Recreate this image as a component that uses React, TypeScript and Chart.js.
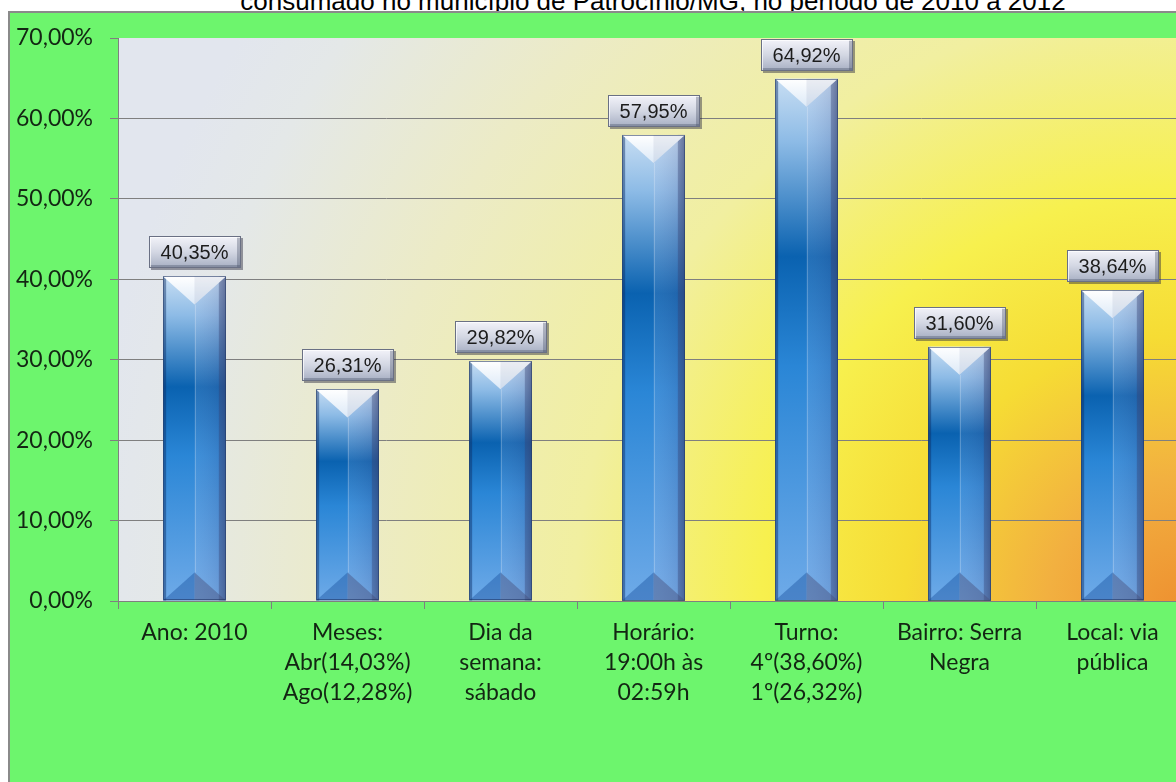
import React, { useEffect, useRef } from "react";
import { Chart, registerables } from "chart.js";

Chart.register(...registerables);

const TITLE = "consumado no município de Patrocínio/MG, no período de 2010 a 2012";
const CATEGORIES: (string | string[])[] = [
  "Ano: 2010",
  ["Meses:", "Abr(14,03%)", "Ago(12,28%)"],
  ["Dia da", "semana:", "sábado"],
  ["Horário:", "19:00h às", "02:59h"],
  ["Turno:", "4º(38,60%)", "1º(26,32%)"],
  ["Bairro: Serra", "Negra"],
  ["Local: via", "pública"],
];
const VALUES = [40.35, 26.31, 29.82, 57.95, 64.92, 31.6, 38.64];
const Y_MIN = 0;
const Y_MAX = 70;
const Y_STEP = 10;

const fmtPct = (v: number) => v.toFixed(2).replace(".", ",") + "%";

const TEXT_COLOR = "#132613";
const AXIS_FONT = "Lato, 'Open Sans', sans-serif";

const backgroundPlugin = {
  id: "bgPlugin",
  beforeDraw(chart: any) {
    const { ctx, chartArea: ca, width, height } = chart;
    ctx.save();
    ctx.fillStyle = "#6df56d";
    ctx.fillRect(10, 12, width - 10, height - 12);
    ctx.fillStyle = "#8a8a8a";
    ctx.fillRect(8, 11, 2, height - 11);
    ctx.fillRect(8, 11, width - 8, 2);
    const cx = ca.right - 10;
    const cy = ca.bottom + 10;
    const g = ctx.createRadialGradient(cx, cy, 0, cx, cy, 1100);
    g.addColorStop(0, "#ee9030");
    g.addColorStop(0.12, "#f2b040");
    g.addColorStop(0.25, "#f6dc34");
    g.addColorStop(0.38, "#f7f04e");
    g.addColorStop(0.55, "#f1efa0");
    g.addColorStop(0.75, "#ecebc6");
    g.addColorStop(0.92, "#e4e8e8");
    g.addColorStop(1, "#e2e6ee");
    ctx.fillStyle = g;
    ctx.fillRect(ca.left, ca.top, ca.right - ca.left, ca.bottom - ca.top);
    ctx.restore();
  },
};

const barDecorPlugin = {
  id: "barDecor",
  afterDatasetsDraw(chart: any) {
    const { ctx } = chart;
    const meta = chart.getDatasetMeta(0);
    ctx.save();
    meta.data.forEach((bar: any, i: number) => {
      const { x, y, base, width } = bar.getProps(["x", "y", "base", "width"], true);
      const x0 = x - width / 2;
      const x1 = x + width / 2;
      const top = y;
      const bot = base;
      const h = bot - top;
      const d = Math.min(28, h / 2);

      // right half shading
      const rg = ctx.createLinearGradient(x, 0, x1, 0);
      rg.addColorStop(0, "rgba(190,200,235,0.14)");
      rg.addColorStop(0.75, "rgba(110,115,165,0.22)");
      rg.addColorStop(1, "rgba(60,70,120,0.5)");
      ctx.fillStyle = rg;
      ctx.fillRect(x, top, x1 - x, h);
      // right bevel strip
      ctx.fillStyle = "rgba(50,60,110,0.35)";
      ctx.fillRect(x1 - 7, top, 7, h);
      // left edge
      ctx.fillStyle = "rgba(10,45,100,0.45)";
      ctx.fillRect(x0, top, 3, h);

      // top V
      const vg = ctx.createLinearGradient(0, top, 0, top + d);
      vg.addColorStop(0, "#ffffff");
      vg.addColorStop(1, "#dce9f7");
      ctx.fillStyle = vg;
      ctx.beginPath();
      ctx.moveTo(x0, top);
      ctx.lineTo(x1, top);
      ctx.lineTo(x, top + d);
      ctx.closePath();
      ctx.fill();
      ctx.fillStyle = "rgba(150,160,190,0.18)";
      ctx.beginPath();
      ctx.moveTo(x, top);
      ctx.lineTo(x1, top);
      ctx.lineTo(x, top + d);
      ctx.closePath();
      ctx.fill();

      // bottom bevel
      ctx.fillStyle = "rgba(15,70,150,0.38)";
      ctx.beginPath();
      ctx.moveTo(x0, bot);
      ctx.lineTo(x, bot - d);
      ctx.lineTo(x, bot);
      ctx.closePath();
      ctx.fill();
      ctx.fillStyle = "rgba(70,80,125,0.45)";
      ctx.beginPath();
      ctx.moveTo(x, bot);
      ctx.lineTo(x, bot - d);
      ctx.lineTo(x1, bot);
      ctx.closePath();
      ctx.fill();

      // center line
      ctx.strokeStyle = "rgba(255,255,255,0.22)";
      ctx.lineWidth = 1;
      ctx.beginPath();
      ctx.moveTo(Math.round(x) + 0.5, top + d);
      ctx.lineTo(Math.round(x) + 0.5, bot - d);
      ctx.stroke();

      // outline
      ctx.strokeStyle = "rgba(30,50,95,0.55)";
      ctx.strokeRect(Math.round(x0) + 0.5, Math.round(top) + 0.5, Math.round(width) - 1, Math.round(h) - 1);

      // value label box
      const txt = fmtPct(VALUES[i]);
      ctx.font = "20px 'Liberation Sans', Arial, sans-serif";
      const tw = ctx.measureText(txt).width;
      const bw = Math.round(tw + 24);
      const bh = 32;
      const bx = Math.round(x - bw / 2);
      const by = Math.round(top - 8 - bh);
      ctx.fillStyle = "rgba(40,40,60,0.45)";
      ctx.fillRect(bx + 2, by + 2, bw, bh);
      const lg = ctx.createLinearGradient(0, by, 0, by + bh);
      lg.addColorStop(0, "#f4f4fa");
      lg.addColorStop(0.5, "#d3d7e3");
      lg.addColorStop(1, "#a6aec2");
      ctx.fillStyle = lg;
      ctx.fillRect(bx, by, bw, bh);
      ctx.fillStyle = "rgba(70,78,100,0.35)";
      ctx.fillRect(bx + bw - 4, by, 4, bh);
      ctx.fillRect(bx, by + bh - 3, bw, 3);
      ctx.fillStyle = "rgba(255,255,255,0.7)";
      ctx.fillRect(bx, by, bw, 2);
      ctx.fillRect(bx, by, 2, bh);
      ctx.strokeStyle = "#6a7084";
      ctx.strokeRect(bx + 0.5, by + 0.5, bw - 1, bh - 1);
      ctx.fillStyle = "#1c1c1c";
      ctx.textAlign = "center";
      ctx.textBaseline = "middle";
      ctx.fillText(txt, x, by + bh / 2 + 1);
    });
    ctx.restore();
  },
};

export default function App() {
  const canvasRef = useRef<HTMLCanvasElement | null>(null);

  useEffect(() => {
    const canvas = canvasRef.current;
    if (!canvas) return;
    const chart = new Chart(canvas, {
      type: "bar",
      data: {
        labels: CATEGORIES,
        datasets: [
          {
            data: VALUES,
            barPercentage: 0.41,
            categoryPercentage: 1,
            backgroundColor: (c: any) => {
              const ch = c.chart;
              const ys = ch.scales && ch.scales.y;
              if (!ys || !ch.chartArea) return "#1a70c0";
              const v = VALUES[c.dataIndex];
              const top = ys.getPixelForValue(v);
              const base = ys.getPixelForValue(0);
              const g = ch.ctx.createLinearGradient(0, top, 0, base);
              g.addColorStop(0, "#c8def3");
              g.addColorStop(0.12, "#8dbbe6");
              g.addColorStop(0.34, "#0a62b0");
              g.addColorStop(0.55, "#2a86d6");
              g.addColorStop(1, "#6eaae8");
              return g;
            },
            borderWidth: 0,
          },
        ],
      },
      options: {
        responsive: false,
        animation: false,
        layout: { padding: { left: 0, top: 38, right: 11, bottom: 61 } },
        plugins: {
          legend: { display: false },
          title: { display: false },
          tooltip: { enabled: false },
        },
        scales: {
          x: {
            afterFit: (s: any) => {
              s.height = 120;
            },
            grid: {
              drawOnChartArea: false,
              drawTicks: true,
              tickLength: 8,
              color: "#7f7f7f",
              offset: true,
            },
            border: { color: "#7f7f7f" },
            ticks: {
              autoSkip: false,
              maxRotation: 0,
              minRotation: 0,
              padding: 9,
              color: TEXT_COLOR,
              font: { family: AXIS_FONT, size: 23, lineHeight: 30 / 23 },
            },
          },
          y: {
            min: Y_MIN,
            max: Y_MAX,
            afterFit: (s: any) => {
              s.width = 118;
            },
            grid: {
              color: (c: any) => (c.tick && c.tick.value === Y_MAX ? "rgba(0,0,0,0)" : "#7f7f7f"),
              tickColor: "#7f7f7f",
              tickLength: 8,
            },
            border: { color: "#7f7f7f" },
            ticks: {
              stepSize: Y_STEP,
              padding: 17,
              color: TEXT_COLOR,
              font: { family: AXIS_FONT, size: 23 },
              callback: (v: any) => fmtPct(Number(v)),
            },
          },
        },
      },
      plugins: [backgroundPlugin, barDecorPlugin],
    });
    return () => chart.destroy();
  }, []);

  return (
    <div
      style={{
        position: "fixed",
        left: 0,
        top: 0,
        width: 1176,
        height: 782,
        overflow: "hidden",
        background: "#ffffff",
      }}
    >
      <div
        style={{
          position: "absolute",
          left: 653,
          top: -12,
          transform: "translateX(-50%)",
          whiteSpace: "nowrap",
          font: "26px/26px 'Liberation Sans', Arial, sans-serif",
          color: "#000",
        }}
      >
        {TITLE}
      </div>
      <canvas
        ref={canvasRef}
        width={1200}
        height={782}
        style={{ position: "absolute", left: 0, top: 0, width: 1200, height: 782 }}
      />
    </div>
  );
}
